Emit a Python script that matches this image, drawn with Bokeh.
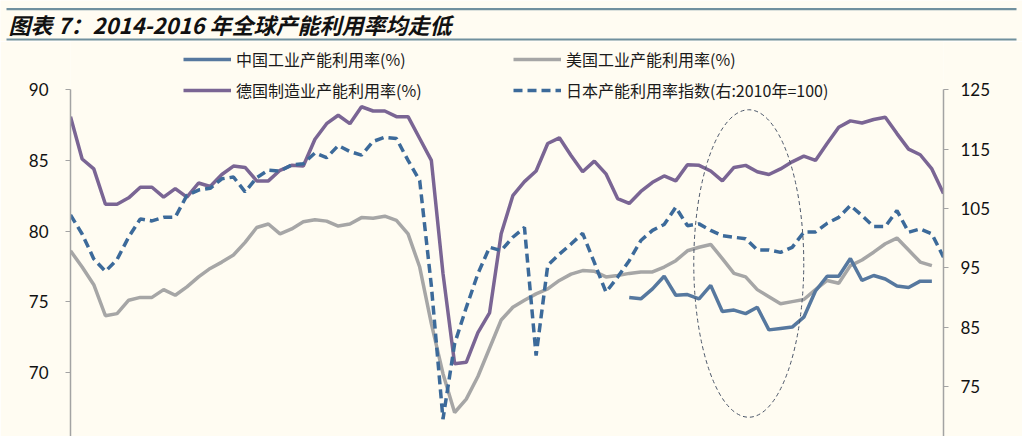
from bokeh.plotting import figure
from bokeh.models import Range1d, LinearAxis, Legend, LegendItem, FixedTicker, Label
from bokeh.embed import file_html
from bokeh.resources import INLINE

BG = "#fffcf2"

# quarterly categories 2001Q1 .. 2019Q4
quarters = [f"{y}Q{q}" for y in range(2001, 2020) for q in range(1, 5)]

germany = [88.1, 85.1, 84.4, 81.9, 81.9, 82.35, 83.1, 83.1, 82.4, 83.0,
           82.4, 83.4, 83.15, 84.0, 84.6, 84.5, 83.55, 83.55, 84.3, 84.65,
           84.6, 86.5, 87.6, 88.2, 87.6, 88.8, 88.5, 88.5, 88.1, 88.1,
           86.55, 85.0, 77.0, 70.6, 70.7, 72.8, 74.2, 79.8, 82.5, 83.5,
           84.25, 86.2, 86.6, 85.35, 84.2, 84.95, 84.05, 82.3, 81.95, 82.8,
           83.45, 83.9, 83.55, 84.7, 84.65, 84.25, 83.55, 84.5, 84.65, 84.2,
           84.0, 84.4, 84.9, 85.3, 85.0, 86.2, 87.35, 87.8, 87.65, 87.9,
           88.05, 86.9, 85.8, 85.4, 84.4, 82.65]

us = [78.6, 77.45, 76.2, 74.0, 74.15, 75.1, 75.3, 75.3, 75.85, 75.45,
      76.05, 76.75, 77.35, 77.8, 78.3, 79.2, 80.25, 80.5, 79.8, 80.15,
      80.65, 80.8, 80.7, 80.35, 80.5, 80.95, 80.9, 81.05, 80.75, 79.8,
      77.45, 73.45, 69.9, 67.15, 68.1, 69.7, 71.7, 73.7, 74.6, 75.1,
      75.55, 75.9, 76.5, 76.95, 77.2, 77.15, 76.75, 76.85, 77.0, 77.1,
      77.1, 77.45, 77.9, 78.6, 78.85, 79.05, 78.05, 77.0, 76.75, 75.85,
      75.35, 74.85, 75.0, 75.15, 75.85, 76.5, 76.3, 77.55, 77.95, 78.5,
      79.1, 79.5, 78.65, 77.8, 77.55]

china_start = "2013Q1"
china = [75.3, 75.2, 75.9, 76.8, 75.45, 75.5, 75.2, 76.15, 74.3, 74.4,
         74.15, 74.6, 73.0, 73.1, 73.2, 73.9, 75.75, 76.8, 76.8, 78.05,
         76.5, 76.85, 76.6, 76.1, 76.0, 76.45, 76.45]

japan = [103.9, 100.7, 96.5, 94.4, 96.4, 100.2, 103.25, 102.9, 103.5, 103.55,
         107.2, 108.1, 108.4, 110.0, 110.3, 107.8, 110.2, 111.45, 111.3, 112.35,
         112.55, 114.35, 113.55, 115.6, 114.6, 114.0, 116.3, 117.0, 116.8, 113.1,
         109.7, 92.0, 69.5, 82.2, 88.3, 94.0, 98.45, 97.9, 100.15, 101.8,
         80.2, 95.4, 97.3, 99.0, 100.8, 95.9, 90.9, 93.4, 96.2, 99.6,
         101.3, 102.3, 105.2, 102.1, 102.4, 101.3, 100.4, 100.15, 99.9, 98.0,
         98.0, 97.6, 98.45, 101.0, 101.05, 102.5, 103.5, 105.5, 103.8, 101.95,
         101.95, 104.65, 101.0, 101.55, 100.7, 96.8]

left_ticks = [70, 75, 80, 85, 90]
right_ticks = [75, 85, 95, 105, 115, 125]

title_text = "图表 7：2014-2016 年全球产能利用率均走低"
label_cn = "中国工业产能利用率(%)"
label_us = "美国工业产能利用率(%)"
label_de = "德国制造业产能利用率(%)"
label_jp = "日本产能利用率指数(右:2010年=100)"

C_CN = "#56789f"
C_US = "#a6a6a6"
C_DE = "#7a6594"
C_JP = "#3c6a9a"
C_RULE = "#70909e"

# ---------- title strip (separate root, pixel coordinates) ----------
t = figure(width=1022, height=41, x_range=Range1d(0, 1022), y_range=Range1d(0, 41),
           toolbar_location=None, output_backend="svg", min_border=0,
           x_axis_location=None, y_axis_location=None)
t.outline_line_color = None
t.background_fill_color = BG
t.border_fill_color = BG
t.xgrid.grid_line_color = None
t.ygrid.grid_line_color = None
t.segment(x0=[6, 6], y0=[32.3, 2.0], x1=[1016, 1016], y1=[32.3, 2.0],
          line_color=C_RULE, line_width=2.2)
t.add_layout(Label(x=8, y=18, text=title_text, text_font="Noto Sans CJK SC",
                   text_font_style="bold italic", text_font_size="22px",
                   text_baseline="middle", text_color="#111111"))

# ---------- main chart ----------
x_all = list(range(len(quarters)))
i0 = quarters.index(china_start)
x_cn = x_all[i0:i0 + len(china)]

p = figure(width=1022, height=395, frame_width=873, frame_height=395,
           x_range=Range1d(0, 75), y_range=Range1d(65.45, 93.42),
           min_border_left=70, min_border_right=79, min_border_top=0, min_border_bottom=0,
           toolbar_location=None, output_backend="svg",
           x_axis_location=None, y_axis_location=None)
p.extra_y_ranges = {"right": Range1d(66.57, 133.14)}
p.outline_line_color = None
p.background_fill_color = BG
p.border_fill_color = BG
p.xgrid.grid_line_color = None
p.ygrid.grid_line_color = None

ax_l = LinearAxis(ticker=FixedTicker(ticks=left_ticks), bounds=(65, 90))
ax_r = LinearAxis(y_range_name="right", ticker=FixedTicker(ticks=right_ticks), bounds=(65, 125))
for ax in (ax_l, ax_r):
    ax.axis_line_color = "#a3a3a3"
    ax.axis_line_width = 1.5
    ax.major_tick_line_color = "#a3a3a3"
    ax.major_tick_line_width = 1.2
    ax.major_tick_out = 5
    ax.major_tick_in = 0
    ax.minor_tick_out = 0
    ax.minor_tick_in = 0
    ax.major_label_text_font = "Lato"
    ax.major_label_text_font_size = "17px"
    ax.major_label_text_color = "#111111"
ax_l.major_label_standoff = 17
ax_r.major_label_standoff = 12
p.add_layout(ax_l, "left")
p.add_layout(ax_r, "right")

r_us = p.line(x_all[:len(us)], us, line_color=C_US, line_width=3.5)
r_de = p.line(x_all[:len(germany)], germany, line_color=C_DE, line_width=3.5)
r_cn = p.line(x_cn, china, line_color=C_CN, line_width=3.5)
r_jp = p.line(x_all[:len(japan)], japan, y_range_name="right", line_color=C_JP,
              line_width=3.5, line_dash="9 5")

# dashed ellipse highlighting 2014-2016
p.ellipse(x=[58.27], y=[77.70], width=[9.45], height=[21.77], fill_color=None,
          line_color="#4a5568", line_width=1, line_dash="4 3")

def make_legend(items, loc):
    return Legend(items=items, location=loc, orientation="vertical", spacing=7,
                  padding=0, margin=0, border_line_color=None, background_fill_alpha=0,
                  glyph_width=48, glyph_height=20, label_height=20, label_standoff=5,
                  label_text_font="Noto Sans CJK SC", label_text_font_size="16px",
                  label_text_color="#1a1a1a")

leg1 = make_legend([LegendItem(label=label_cn, renderers=[r_cn]),
                    LegendItem(label=label_de, renderers=[r_de])], (113, 334))
leg2 = make_legend([LegendItem(label=label_us, renderers=[r_us]),
                    LegendItem(label=label_jp, renderers=[r_jp])], (443, 334))
p.add_layout(leg1)
p.add_layout(leg2)

html = file_html([t, p], INLINE)
html = html.replace("<body>", '<body style="margin:0;background-color:%s;">' % BG, 1)
open("out.html", "w").write(html)
